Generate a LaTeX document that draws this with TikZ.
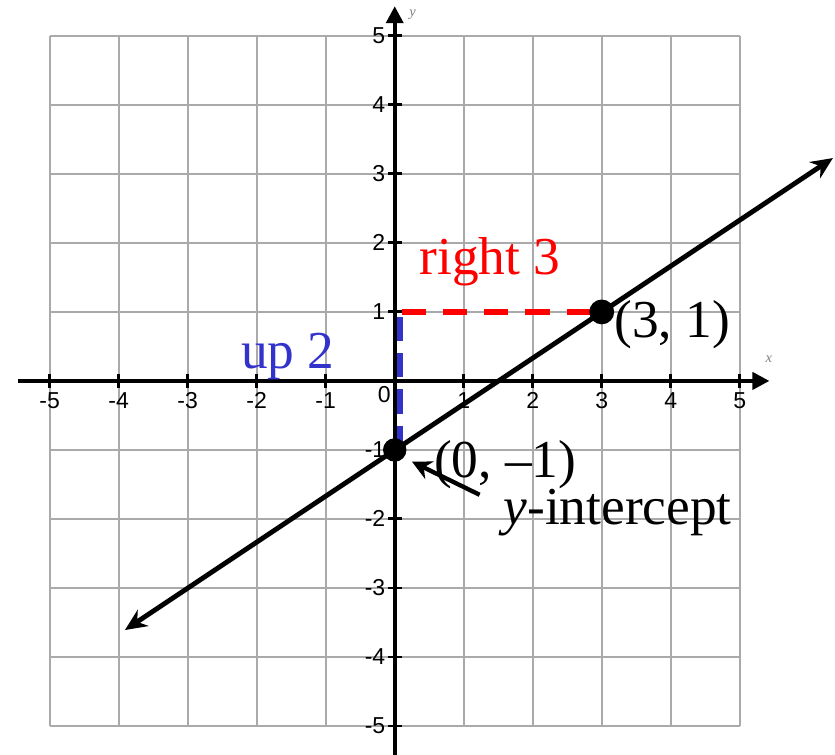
\documentclass[tikz,border=0pt]{standalone}
\usepackage{fontspec}
\setmainfont{Liberation Serif}
\setsansfont{Liberation Sans}
\definecolor{gridgray}{RGB}{170, 170, 170}
\definecolor{runred}{RGB}{255, 0, 0}
\definecolor{riseblue}{RGB}{51, 51, 204}
\usetikzlibrary{arrows.meta, positioning, calc}

\begin{document}
\begin{tikzpicture}[
    gridline/.style={gridgray, line width=0.8pt},
    axisline/.style={black, line width=1.6pt},
    ticklabel/.style={font=\sffamily\fontsize{9.5}{10}\selectfont, inner sep=0pt},
    biglabel/.style={font=\fontsize{22}{24}\selectfont, inner sep=0pt}
  ]
  \useasboundingbox (-5.72, -5.41) rectangle (6.38, 5.52);

  % Grid
  \foreach \k in {-5,...,5} {
    \draw[gridline] (\k, -5) -- (\k, 5);
    \draw[gridline] (-5, \k) -- (5, \k);
  }

  % Axes
  \draw[axisline, -{Triangle[length=7pt, width=7pt]}] (-5.46, 0) -- (5.43, 0);
  \draw[axisline, -{Triangle[length=7pt, width=7pt]}] (0, -5.5) -- (0, 5.43);
  \node[gray, font=\fontsize{6}{7}\selectfont\itshape] (xlab) at (5.42, 0.32) {x};
  \node[gray, font=\fontsize{6}{7}\selectfont\itshape] (ylab) at (0.26, 5.3) {y};

  % Ticks and tick labels
  \foreach \k in {-5,...,-1,1,2,...,5} {
    \draw[line width=1.2pt] (\k, -0.1) -- (\k, 0.1);
    \draw[line width=1.2pt] (-0.1, \k) -- (0.1, \k);
    \node[ticklabel] at (\k, -0.29) {\k};
    \node[ticklabel, anchor=east] at (-0.13, \k) {\k};
  }
  \node[ticklabel] (orig) at (-0.15, -0.2) {0};

  % Points of the line
  \coordinate (P0) at (0, -1);
  \coordinate (P1) at (3, 1);
  \coordinate (Lend) at (-3.91, -3.61);
  \coordinate (Rend) at (6.35, 3.23);

  % Rise and run
  \draw[riseblue, line width=2.4pt, dash pattern=on 10pt off 5pt] (0.08, -1) -- (0.08, 1);
  \draw[runred, line width=2.5pt, dash pattern=on 10pt off 7pt] (0.1, 1) -- (P1);

  % The line
  \draw[line width=2pt, {Stealth[length=9pt, width=8pt]}-{Stealth[length=9pt, width=8pt]}] (Lend) -- (Rend);
  \fill (P0) circle (0.17);
  \fill (P1) circle (0.18);

  % Labels
  \node[biglabel, runred] (run) at (1.38, 1.72) {right 3};
  \node[biglabel, riseblue] (rise) at (-1.55, 0.35) {up 2};
  \node[biglabel] (p1lab) at (4.02, 0.81) {(3, 1)};
  \node[biglabel] (p0lab) at (1.6, -1.22) {(0, --1)};
  \node[biglabel] (yint) at (3.23, -1.91) {\textit{y}-intercept};

  % Pointer to the intercept
  \coordinate (tail) at (1.23, -1.65);
  \coordinate (tip) at (0.25, -1.17);
  \draw[line width=1.8pt, -{Stealth[length=8pt, width=8pt]}] (tail) -- (tip);
\end{tikzpicture}
\end{document}
